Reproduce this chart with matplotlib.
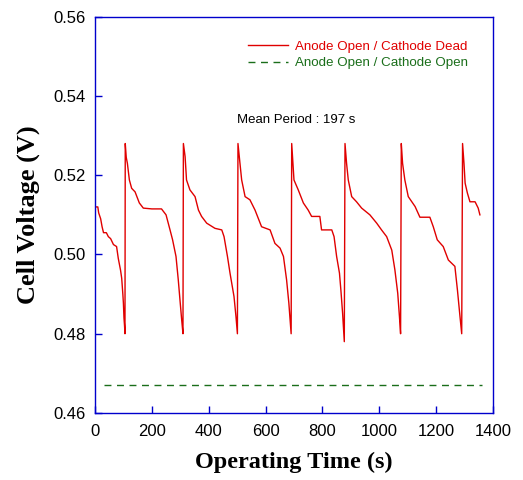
import matplotlib
matplotlib.use("Agg")
import matplotlib.pyplot as plt

# Anode Open / Cathode Dead (sawtooth, one row per cycle)
t_dead = [
    0, 10, 13, 20, 25, 30, 40, 47, 55, 65, 76, 82, 90, 94, 98, 100, 102, 104, 105.5,
    106.5, 110, 114, 121, 129, 141, 156, 170, 200, 234, 250, 264, 273, 285, 293, 299, 305, 309.5,
    311, 317, 322, 334, 352, 364, 375, 393, 422, 446, 454, 466, 475, 489, 496, 501,
    503, 510, 516, 528, 545, 563, 586, 616, 633, 651, 663, 674, 682, 690,
    692, 700, 715, 733, 750, 762, 791, 797, 833, 841, 850, 860, 865, 871, 877,
    879.5, 885, 891, 903, 920, 938, 967, 991, 1008, 1026, 1044, 1055, 1065, 1071, 1075,
    1077.5, 1082, 1090, 1102, 1126, 1143, 1178, 1190, 1204, 1225, 1243, 1266, 1275, 1284, 1290,
    1293, 1298, 1302, 1310, 1319, 1337, 1348, 1354,
]
v_dead = [
    0.512, 0.512, 0.5105, 0.509, 0.507, 0.5055, 0.5055, 0.5045, 0.504, 0.5025, 0.502, 0.499, 0.496, 0.494, 0.490, 0.4877, 0.484, 0.482, 0.480,
    0.528, 0.5245, 0.523, 0.5188, 0.5167, 0.5158, 0.513, 0.5117, 0.5115, 0.5115, 0.510, 0.5062, 0.5037, 0.4995, 0.4936, 0.4885, 0.4835, 0.480,
    0.528, 0.5247, 0.5188, 0.5163, 0.5146, 0.5112, 0.5096, 0.5079, 0.5066, 0.5062, 0.5045, 0.4995, 0.4953, 0.4894, 0.4843, 0.480,
    0.528, 0.523, 0.5188, 0.5146, 0.5138, 0.5112, 0.507, 0.5062, 0.5028, 0.5016, 0.4995, 0.4936, 0.4877, 0.480,
    0.528, 0.5188, 0.5163, 0.513, 0.5112, 0.5096, 0.5096, 0.5062, 0.5062, 0.5045, 0.4995, 0.4953, 0.491, 0.4852, 0.478,
    0.528, 0.523, 0.5188, 0.5146, 0.5133, 0.5117, 0.510, 0.5079, 0.5062, 0.5045, 0.5011, 0.4961, 0.4902, 0.4843, 0.480,
    0.528, 0.523, 0.5188, 0.5146, 0.5121, 0.5094, 0.5094, 0.507, 0.5037, 0.502, 0.4986, 0.497, 0.491, 0.4843, 0.480,
    0.528, 0.523, 0.518, 0.5155, 0.5133, 0.5133, 0.5117, 0.510,
]

# Anode Open / Cathode Open (flat)
t_open = [30, 1360]
v_open = [0.467, 0.467]

x_ticks = [0, 200, 400, 600, 800, 1000, 1200, 1400]
y_ticks = [0.46, 0.48, 0.50, 0.52, 0.54, 0.56]

RED = "#e00000"
GREEN = "#1a6e1a"
BLUE = "#0000cc"

fig = plt.figure(figsize=(5.23, 4.80), dpi=100)
ax = fig.add_axes([0.1816, 0.1396, 0.761, 0.8256])

ax.plot(t_dead, v_dead, color=RED, lw=1.0, label="Anode Open / Cathode Dead")
ax.plot(t_open, v_open, color=GREEN, lw=1.0, linestyle=(0, (5, 4)),
        label="Anode Open / Cathode Open")

ax.set_xlim(0, 1400)
ax.set_ylim(0.46, 0.56)
ax.set_xticks(x_ticks)
ax.set_yticks(y_ticks)
ax.set_yticklabels([f"{v:.2f}" for v in y_ticks])

for sp in ax.spines.values():
    sp.set_color(BLUE)
    sp.set_linewidth(1.0)
ax.tick_params(direction="in", length=5, width=1, color=BLUE,
               labelsize=12, top=False, right=False)
ax.tick_params(axis="x", pad=8)
ax.tick_params(axis="y", pad=7)
for lab in ax.get_xticklabels() + ax.get_yticklabels():
    lab.set_family("Liberation Sans")

ax.set_xlabel("Operating Time (s)", family="Liberation Serif", fontweight="bold",
              fontsize=17.5, labelpad=9)
ax.set_ylabel("Cell Voltage (V)", family="Liberation Serif", fontweight="bold",
              fontsize=19, labelpad=9)

ax.text(500, 0.534, "Mean Period : 197 s", family="Liberation Sans",
        fontsize=9.5, ha="left", va="center")

leg = ax.legend(loc="upper right", bbox_to_anchor=(0.957, 0.96), frameon=False,
                prop={"family": "Liberation Sans", "size": 9.6},
                handlelength=3.0, handletextpad=0.5, labelspacing=0.3,
                labelcolor="linecolor", borderaxespad=0.2)

fig.savefig("out.png", dpi=100)
